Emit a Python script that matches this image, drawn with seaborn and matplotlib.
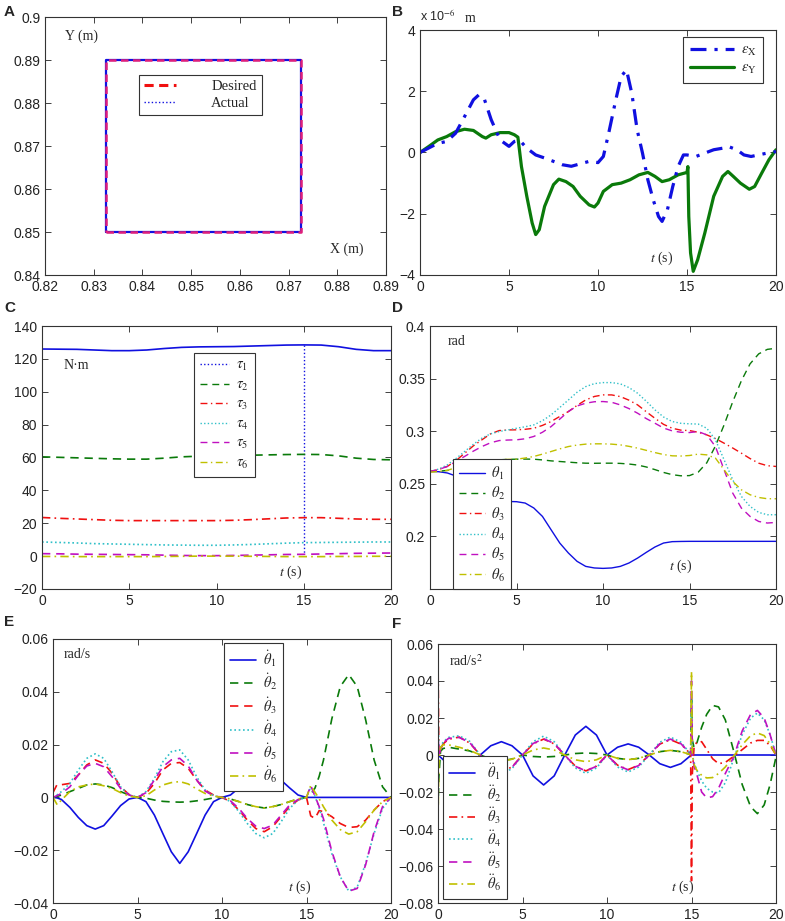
import matplotlib
matplotlib.use("Agg")
import matplotlib.pyplot as plt
from matplotlib.lines import Line2D
from matplotlib.ticker import FuncFormatter
import seaborn as sns

# =====================================================
# DATA
# =====================================================
# A: end-effector path
SQ_X = [0.8325, 0.8725, 0.8725, 0.8325, 0.8325]
SQ_Y = [0.850, 0.850, 0.890, 0.890, 0.850]

# B: tracking errors (x 1e-6 m)
EX_T = [0, 1, 1.5, 2, 2.5, 3, 3.3, 3.6, 4, 4.5, 5, 5.3, 5.6, 6, 6.5, 7, 7.5, 8, 8.5, 9,
        9.5, 10, 10.3, 10.6, 11, 11.3, 11.6, 11.9, 12.2, 12.5, 12.8, 13.1, 13.4, 13.6, 13.9,
        14.2, 14.5, 14.8, 15, 15.5, 16, 16.5, 17, 17.3, 17.8, 18.2, 18.6, 19, 19.5, 20]
EX_V = [0, 0.3, 0.36, 0.63, 1.17, 1.72, 1.88, 1.77, 1.07, 0.41, 0.2, 0.36, 0.4, 0.14, -0.08,
        -0.18, -0.29, -0.4, -0.45, -0.37, -0.29, -0.33, -0.13, 0.63, 1.72, 2.48, 2.7, 1.93,
        0.74, -0.02, -0.89, -1.54, -2.09, -2.25, -1.87, -1.11, -0.46, -0.08, -0.08, -0.13,
        -0.02, 0.09, 0.14, 0.2, 0.09, -0.08, -0.13, -0.08, -0.02, 0.03]
EY_T = [0, 0.5, 1, 1.5, 2, 2.5, 3, 3.5, 3.7, 4, 4.5, 5, 5.3, 5.5, 5.7, 6, 6.3, 6.5, 6.7, 7,
        7.5, 7.8, 8.2, 8.6, 9, 9.5, 9.8, 10, 10.3, 10.8, 11.3, 11.8, 12.3, 12.8, 13.2, 13.6,
        14, 14.5, 15, 15.05, 15.1, 15.2, 15.35, 15.6, 16, 16.5, 17, 17.3, 17.6, 18, 18.5,
        18.8, 19.2, 19.6, 20]
EY_V = [0, 0.2, 0.41, 0.52, 0.68, 0.76, 0.72, 0.52, 0.47, 0.58, 0.65, 0.65, 0.58, 0.5, -0.46,
        -1.43, -2.3, -2.68, -2.52, -1.76, -1.05, -0.87, -0.95, -1.11, -1.43, -1.71, -1.78,
        -1.65, -1.27, -1.05, -1.0, -0.89, -0.73, -0.65, -0.78, -0.95, -0.89, -0.73, -0.65,
        -0.46, -2.09, -3.28, -3.88, -3.5, -2.63, -1.43, -0.78, -0.62, -0.78, -1.0, -1.2,
        -1.11, -0.67, -0.24, 0.09]

# C: joint torques (N.m), 1 s steps
T_C = list(range(21))
TAU1 = [126.0, 125.9, 125.8, 125.4, 125.0, 125.0, 125.4, 126.3, 127.0, 127.3, 127.4, 127.5,
        127.8, 128.1, 128.4, 128.5, 128.4, 127.4, 125.8, 125.0, 125.0]
TAU1_SPIKE_T = [15.0, 15.0]
TAU1_SPIKE_V = [128.5, 1.0]
TAU2 = [60.4, 60.1, 59.8, 59.5, 59.2, 59.0, 59.0, 59.6, 60.4, 60.8, 61.0, 61.2, 61.4, 61.6,
        61.8, 61.9, 61.8, 61.0, 59.6, 58.8, 58.6]
TAU3 = [23.5, 23.0, 22.6, 22.2, 21.8, 21.6, 21.6, 21.6, 21.6, 21.6, 21.6, 21.8, 22.2, 22.7,
        23.2, 23.4, 23.4, 23.0, 22.6, 22.4, 22.4]
TAU4 = [8.6, 8.3, 8.0, 7.6, 7.4, 7.2, 7.0, 6.8, 6.7, 6.6, 6.6, 6.8, 7.1, 7.5, 7.9, 8.2, 8.3,
        8.4, 8.5, 8.6, 8.6]
TAU5 = [1.5, 1.4, 1.2, 1.1, 1.0, 0.9, 0.8, 0.6, 0.4, 0.3, 0.3, 0.4, 0.6, 0.8, 1.0, 1.1, 1.3,
        1.5, 1.7, 1.8, 1.9]
TAU6 = [-0.2, -0.2, -0.3, -0.3, -0.3, -0.3, -0.3, -0.2, -0.1, 0.0, 0.0, 0.0, -0.1, -0.2,
        -0.3, -0.3, -0.3, -0.2, -0.2, -0.1, -0.1]

# D: joint angles (rad), 0.5 s steps
T_D = [i * 0.5 for i in range(41)]
TH1 = [0.2617, 0.2615, 0.2603, 0.2574, 0.2529, 0.2474, 0.2418, 0.2373, 0.2344, 0.2332,
       0.2330, 0.2317, 0.2270, 0.2190, 0.2063, 0.1937, 0.1842, 0.1763, 0.1715, 0.1700,
       0.1696, 0.1700, 0.1715, 0.1747, 0.1794, 0.1848, 0.1899, 0.1937, 0.1950, 0.1952,
       0.1953, 0.1953, 0.1953, 0.1953, 0.1953, 0.1953, 0.1953, 0.1953, 0.1953, 0.1953, 0.1953]
TH2 = [0.2617, 0.2620, 0.2627, 0.2645, 0.2665, 0.2685, 0.2703, 0.2717, 0.2728, 0.2732,
       0.2734, 0.2735, 0.2734, 0.2727, 0.2718, 0.2712, 0.2706, 0.2700, 0.2696, 0.2695,
       0.2696, 0.2696, 0.2694, 0.2688, 0.2678, 0.2660, 0.2635, 0.2608, 0.2587, 0.2576,
       0.2578, 0.2610, 0.2700, 0.2860, 0.3060, 0.3280, 0.3480, 0.3640, 0.3735, 0.3778, 0.3788]
TH3 = [0.2617, 0.2635, 0.2665, 0.2720, 0.2790, 0.2860, 0.2918, 0.2975, 0.3006, 0.3012,
       0.3013, 0.3018, 0.3028, 0.3055, 0.3092, 0.3140, 0.3187, 0.3245, 0.3297, 0.3330,
       0.3345, 0.3345, 0.3329, 0.3295, 0.3250, 0.3185, 0.3123, 0.3065, 0.3028, 0.3010,
       0.3006, 0.2990, 0.2965, 0.2930, 0.2886, 0.2840, 0.2791, 0.2740, 0.2696, 0.2672, 0.2665]
TH4 = [0.2617, 0.2640, 0.2680, 0.2740, 0.2807, 0.2875, 0.2934, 0.2975, 0.2997, 0.3012,
       0.3028, 0.3042, 0.3060, 0.3100, 0.3155, 0.3225, 0.3297, 0.3370, 0.3424, 0.3452,
       0.3462, 0.3462, 0.3450, 0.3415, 0.3361, 0.3285, 0.3203, 0.3135, 0.3092, 0.3075,
       0.3070, 0.3068, 0.3028, 0.2918, 0.2728, 0.2538, 0.2380, 0.2285, 0.2228, 0.2206, 0.2206]
TH5 = [0.2617, 0.2635, 0.2665, 0.2712, 0.2760, 0.2810, 0.2854, 0.2890, 0.2911, 0.2916,
       0.2918, 0.2928, 0.2950, 0.2990, 0.3044, 0.3115, 0.3187, 0.3240, 0.3266, 0.3280,
       0.3282, 0.3275, 0.3250, 0.3215, 0.3171, 0.3120, 0.3076, 0.3030, 0.3003, 0.2990,
       0.2987, 0.2997, 0.2965, 0.2854, 0.2633, 0.2411, 0.2269, 0.2190, 0.2142, 0.2127, 0.2133]
TH6 = [0.2610, 0.2617, 0.2627, 0.2655, 0.2680, 0.2698, 0.2712, 0.2722, 0.2728, 0.2732,
       0.2734, 0.2745, 0.2760, 0.2782, 0.2807, 0.2832, 0.2854, 0.2868, 0.2877, 0.2880,
       0.2880, 0.2877, 0.2870, 0.2856, 0.2839, 0.2818, 0.2797, 0.2778, 0.2766, 0.2764,
       0.2769, 0.2782, 0.2775, 0.2744, 0.2633, 0.2522, 0.2443, 0.2396, 0.2370, 0.2358, 0.2358]

# E: joint velocities (rad/s)
T_E = [0, 0.25, 0.5, 1.0, 1.5, 2.0, 2.5, 3.0, 3.5, 4.0, 4.5, 5.0, 5.5, 6.0, 6.5, 7.0, 7.5,
       8.0, 8.5, 9.0, 9.5, 10.0, 10.5, 11.0, 11.5, 12.0, 12.5, 13.0, 13.5, 14.0, 14.5, 15.0,
       15.25, 15.5, 15.75, 16.0, 16.5, 17.0, 17.5, 18.0, 18.5, 19.0, 19.5, 20.0]
DTH1 = [0, -0.0002, -0.0008, -0.0038, -0.0076, -0.0107, -0.0120, -0.0107, -0.0070, -0.0031,
        -0.0006, 0, -0.0016, -0.0067, -0.0137, -0.0206, -0.0250, -0.0206, -0.0137, -0.0067,
        -0.0016, 0, 0.0009, 0.0036, 0.0065, 0.0090, 0.0100, 0.0090, 0.0065, 0.0036, 0.0009,
        0, 0, 0, 0, 0, 0, 0, 0, 0, 0, 0, 0, 0]
DTH2 = [0, 0.0004, 0.0009, 0.0022, 0.0034, 0.0047, 0.0051, 0.0047, 0.0037, 0.0022, 0.0009,
        0, -0.0003, -0.0010, -0.0015, -0.0017, -0.0018, -0.0017, -0.0013, -0.0008, -0.0002,
        0, -0.0006, -0.0016, -0.0027, -0.0035, -0.0040, -0.0035, -0.0027, -0.0016, -0.0006,
        0, 0.0012, 0.0035, 0.0080, 0.0140, 0.0298, 0.0420, 0.0465, 0.0420, 0.0294, 0.0142,
        0.0040, 0]
DTH3 = [0.0018, 0.0050, 0.0048, 0.0053, 0.0085, 0.0123, 0.0142, 0.0129, 0.0091, 0.0040,
        0.0011, 0, 0.0015, 0.0053, 0.0104, 0.0129, 0.0132, 0.0110, 0.0066, 0.0028, 0.0009,
        0, -0.0016, -0.0048, -0.0086, -0.0118, -0.0130, -0.0111, -0.0073, -0.0035, -0.0010,
        0, -0.0070, -0.0080, -0.0050, -0.0054, -0.0073, -0.0099, -0.0114, -0.0111, -0.0086,
        -0.0048, -0.0016, 0]
DTH4 = [0, 0.0010, 0.0022, 0.0053, 0.0104, 0.0148, 0.0165, 0.0148, 0.0097, 0.0040, 0.0009,
        0, 0.0022, 0.0072, 0.0135, 0.0173, 0.0180, 0.0142, 0.0078, 0.0028, 0.0006, 0,
        -0.0016, -0.0054, -0.0099, -0.0137, -0.0153, -0.0137, -0.0092, -0.0042, -0.0010, 0,
        0.0040, 0.0005, -0.0040, -0.0095, -0.0213, -0.0301, -0.0355, -0.0340, -0.0250,
        -0.0137, -0.0042, 0]
DTH5 = [0, 0.0007, 0.0015, 0.0040, 0.0085, 0.0119, 0.0129, 0.0116, 0.0078, 0.0034, 0.0009,
        0, 0.0018, 0.0066, 0.0116, 0.0142, 0.0148, 0.0119, 0.0066, 0.0024, 0.0006, 0,
        -0.0013, -0.0042, -0.0080, -0.0109, -0.0118, -0.0105, -0.0067, -0.0029, -0.0008, 0,
        0.0045, 0.0005, -0.0035, -0.0080, -0.0205, -0.0301, -0.0355, -0.0345, -0.0255,
        -0.0130, -0.0035, 0]
DTH6 = [0, -0.0028, -0.0010, 0.0022, 0.0040, 0.0047, 0.0051, 0.0044, 0.0034, 0.0018, 0.0005,
        0, 0.0006, 0.0028, 0.0047, 0.0056, 0.0060, 0.0051, 0.0032, 0.0015, 0.0005, 0,
        -0.0006, -0.0016, -0.0027, -0.0035, -0.0040, -0.0035, -0.0027, -0.0016, -0.0006, 0,
        0.0045, 0.0020, -0.0005, -0.0035, -0.0086, -0.0122, -0.0139, -0.0130, -0.0092,
        -0.0048, -0.0016, 0]

# F: joint accelerations (rad/s^2)
T_F = [0, 0.05, 0.15, 0.3, 0.625, 1.25, 1.875, 2.5, 3.125, 3.75, 4.375, 5.0, 5.625, 6.25,
       6.875, 7.5, 8.125, 8.75, 9.375, 10.0, 10.625, 11.25, 11.875, 12.5, 13.125, 13.75,
       14.375, 14.95, 15.0, 15.05, 15.15, 15.3, 15.6, 15.9, 16.25, 16.6, 17.0, 17.5, 18.0,
       18.5, 18.9, 19.3, 19.65, 20.0]
DDTH1 = [0, -0.0005, -0.0012, -0.0025, -0.0050, -0.0072, -0.0050, 0, 0.0050, 0.0072, 0.0050,
         0, -0.0113, -0.0162, -0.0113, 0, 0.0108, 0.0155, 0.0108, 0, 0.0042, 0.0060, 0.0042,
         0, -0.0047, -0.0067, -0.0047, -0.0003, 0, 0, 0, 0, 0, 0, 0, 0, 0, 0, 0, 0, 0, 0, 0, 0]
DDTH2 = [-0.030, -0.012, 0.002, 0.0035, 0.0042, 0.0032, 0.0022, 0, -0.0022, -0.0032, -0.0022,
         0, -0.0008, -0.0011, -0.0008, 0, 0.0008, 0.0011, 0.0008, 0, -0.0018, -0.0025,
         -0.0018, 0, 0.0018, 0.0025, 0.0018, 0.0002, 0.030, 0.008, 0.004, 0.006, 0.015, 0.022,
         0.0268, 0.026, 0.019, 0.002, -0.016, -0.028, -0.0317, -0.027, -0.016, -0.001]
DDTH3 = [0.055, 0.0, 0.003, 0.006, 0.0085, 0.0097, 0.0065, 0, -0.0065, -0.0090, -0.0065, 0,
         0.0060, 0.0086, 0.0060, 0, -0.0060, -0.0086, -0.0060, 0, -0.0055, -0.0079, -0.0055,
         0, 0.0059, 0.0083, 0.0059, 0.0005, -0.068, -0.010, 0.004, 0.0068, 0.0072, 0.0030,
         -0.0020, -0.0047, -0.0040, -0.0007, 0.0029, 0.0065, 0.0079, 0.0079, 0.0052, 0]
DDTH4 = [0.020, 0.005, 0.004, 0.007, 0.0095, 0.0104, 0.0074, 0, -0.0074, -0.0104, -0.0074, 0,
         0.0072, 0.0102, 0.0072, 0, -0.0070, -0.0099, -0.0070, 0, -0.0065, -0.0092, -0.0065,
         0, 0.0069, 0.0097, 0.0069, 0.0005, 0.030, 0.0, -0.004, -0.008, -0.014, -0.018,
         -0.0200, -0.0205, -0.015, -0.002, 0.011, 0.020, 0.0227, 0.019, 0.011, 0]
DDTH5 = [0.015, 0.0, 0.003, 0.0065, 0.0090, 0.0095, 0.0067, 0, -0.0067, -0.0095, -0.0067, 0,
         0.0062, 0.0088, 0.0062, 0, -0.0061, -0.0086, -0.0061, 0, -0.0057, -0.0080, -0.0057,
         0, 0.0061, 0.0086, 0.0061, 0.0005, 0.040, 0.0, -0.006, -0.010, -0.020, -0.0232,
         -0.0225, -0.018, -0.010, -0.001, 0.013, 0.022, 0.0241, 0.020, 0.011, 0]
DDTH6 = [-0.037, -0.005, 0.004, 0.0055, 0.0055, 0.0042, 0.0025, 0, -0.0025, -0.0033, -0.0023,
         0, 0.0027, 0.0038, 0.0027, 0, -0.0026, -0.0036, -0.0026, 0, -0.0018, -0.0025,
         -0.0018, 0, 0.0018, 0.0025, 0.0018, 0.0002, 0.045, 0.0, -0.005, -0.008, -0.011,
         -0.0124, -0.0122, -0.010, -0.0065, -0.0005, 0.0055, 0.0105, 0.0119, 0.0105, 0.006, 0]

# =====================================================
# STYLE
# =====================================================
sns.set_style("ticks")
plt.rcParams.update({
    "font.family": ["Liberation Sans", "DejaVu Sans"],
    "mathtext.fontset": "stix",
    "font.size": 10,
    "xtick.direction": "in",
    "ytick.direction": "in",
    "xtick.top": True,
    "ytick.right": True,
    "xtick.major.size": 4,
    "ytick.major.size": 4,
    "xtick.major.width": 0.6,
    "ytick.major.width": 0.6,
    "xtick.color": "#222222",
    "ytick.color": "#222222",
    "xtick.labelsize": 10,
    "ytick.labelsize": 10,
    "axes.edgecolor": "#333333",
    "axes.linewidth": 0.8,
})

BLUE = "#1010e0"
GREEN = "#0a7a0a"
RED = "#f01010"
CYAN = "#30c0c8"
MAGENTA = "#c010c0"
YELLOW = "#c0c000"

DASH = (0, (5, 3.5))
DASH_THICK = (0, (3, 1.8))
DASHDOT = (0, (5, 2.5, 1, 2.5))
DOT = (0, (1, 1.6))
SOLID = "-"

SERIF = ["Liberation Serif", "DejaVu Serif"]
fmt_g = FuncFormatter(lambda v, p: "{:g}".format(round(v, 6)).replace("-", "\u2212"))


def draw(ax, t, v, color, ls, lw=1.0):
    sns.lineplot(x=t, y=v, ax=ax, color=color, linestyle=ls, linewidth=lw,
                 sort=False, estimator=None, errorbar=None)


def finish(ax, xlim, ylim, xticks, yticks):
    ax.set_xlim(*xlim)
    ax.set_ylim(*ylim)
    ax.set_xticks(xticks)
    ax.set_yticks(yticks)
    ax.xaxis.set_major_formatter(fmt_g)
    ax.yaxis.set_major_formatter(fmt_g)
    ax.set_xlabel("")
    ax.set_ylabel("")
    for s in ax.spines.values():
        s.set_visible(True)


def legend(ax, entries, anchor, lw=1.0, spacing=0.3, size=10.5, hl=1.9, tp=0.45,
           bp=0.4):
    handles = [Line2D([], [], color=c, linestyle=ls, linewidth=lw) for c, ls, _ in entries]
    labels = [lab for _, _, lab in entries]
    lg = ax.legend(handles, labels, loc="upper left", bbox_to_anchor=anchor,
                   frameon=True, fancybox=False, framealpha=1, edgecolor="#333333",
                   handlelength=hl, handletextpad=tp, labelspacing=spacing,
                   borderpad=bp, borderaxespad=0, prop={"family": SERIF, "size": size})
    lg.get_frame().set_linewidth(0.8)
    return lg


W, H = 785, 921
fig = plt.figure(figsize=(W / 100, H / 100), dpi=100)


def axes_px(left, top, right, bottom):
    return fig.add_axes([left / W, 1 - bottom / H, (right - left) / W, (bottom - top) / H])


ax_a = axes_px(45, 17, 386, 275)
ax_b = axes_px(420, 30, 776, 275)
ax_c = axes_px(42, 326, 391, 589)
ax_d = axes_px(430, 326, 776, 589)
ax_e = axes_px(53, 639, 391, 903)
ax_f = axes_px(438, 644, 776, 903)

# ---------------- A ----------------
draw(ax_a, SQ_X, SQ_Y, BLUE, SOLID, 1.6)
draw(ax_a, SQ_X, SQ_Y, "#e0207a", DASH_THICK, 1.8)
finish(ax_a, (0.82, 0.89), (0.84, 0.9),
       [0.82, 0.83, 0.84, 0.85, 0.86, 0.87, 0.88, 0.89],
       [0.84, 0.85, 0.86, 0.87, 0.88, 0.89, 0.9])
lg_a = legend(ax_a, [(RED, DASH_THICK, "Desired"), (BLUE, DOT, "Actual")], (0.276, 0.775),
              spacing=0.25, size=10.5, hl=2.2, tp=2.4, bp=0.35)
lg_a.get_lines()[0].set_linewidth(2.2)
ax_a.text(0.06, 0.925, "Y (m)", transform=ax_a.transAxes, family=SERIF, size=10,
          va="center")
ax_a.text(0.835, 0.10, "X (m)", transform=ax_a.transAxes, family=SERIF, size=10,
          va="center")

# ---------------- B ----------------
draw(ax_b, EY_T, EY_V, GREEN, SOLID, 2.3)
draw(ax_b, EX_T, EX_V, BLUE, DASHDOT, 2.3)
finish(ax_b, (0, 20), (-4, 4), [0, 5, 10, 15, 20], [-4, -2, 0, 2, 4])
legend(ax_b, [(BLUE, DASHDOT, r"$\epsilon_{\mathrm{X}}$"),
              (GREEN, SOLID, r"$\epsilon_{\mathrm{Y}}$")], (0.74, 0.97), lw=2.3,
       spacing=0.25, size=10.5, hl=3.0, tp=0.5, bp=0.45)
ax_b.text(0.0, 1.025, r"x 10$^{-6}$", transform=ax_b.transAxes, size=9, va="bottom")
ax_b.text(0.125, 1.02, "m", transform=ax_b.transAxes, family=SERIF, size=10, va="bottom")
ax_b.text(0.645, 0.07, r"$t$ (s)", transform=ax_b.transAxes, family=SERIF, size=10,
          va="center")

# ---------------- C ----------------
draw(ax_c, T_C, TAU1, BLUE, SOLID, 1.2)
draw(ax_c, TAU1_SPIKE_T, TAU1_SPIKE_V, BLUE, DOT, 1.0)
draw(ax_c, T_C, TAU2, GREEN, DASH, 1.2)
draw(ax_c, T_C, TAU3, RED, DASHDOT, 1.2)
draw(ax_c, T_C, TAU4, CYAN, DOT, 1.2)
draw(ax_c, T_C, TAU5, MAGENTA, DASH, 1.2)
draw(ax_c, T_C, TAU6, YELLOW, DASHDOT, 1.2)
finish(ax_c, (0, 20), (-20, 140), [0, 5, 10, 15, 20], list(range(-20, 141, 20)))
legend(ax_c, [(BLUE, DOT, r"$\tau_1$"), (GREEN, DASH, r"$\tau_2$"),
              (RED, DASHDOT, r"$\tau_3$"), (CYAN, DOT, r"$\tau_4$"),
              (MAGENTA, DASH, r"$\tau_5$"), (YELLOW, DASHDOT, r"$\tau_6$")],
       (0.436, 0.897), spacing=0.36, hl=2.0, tp=0.45)
ax_c.text(0.063, 0.85, "N\u00b7m", transform=ax_c.transAxes, family=SERIF, size=10,
          va="center")
ax_c.text(0.68, 0.065, r"$t$ (s)", transform=ax_c.transAxes, family=SERIF, size=10,
          va="center")

# ---------------- D ----------------
draw(ax_d, T_D, TH1, BLUE, SOLID)
draw(ax_d, T_D, TH2, GREEN, DASH)
draw(ax_d, T_D, TH3, RED, DASHDOT)
draw(ax_d, T_D, TH4, CYAN, DOT)
draw(ax_d, T_D, TH5, MAGENTA, DASH)
draw(ax_d, T_D, TH6, YELLOW, DASHDOT)
finish(ax_d, (0, 20), (0.15, 0.4), [0, 5, 10, 15, 20], [0.2, 0.25, 0.3, 0.35, 0.4])
legend(ax_d, [(BLUE, SOLID, r"$\theta_1$"), (GREEN, DASH, r"$\theta_2$"),
              (RED, DASHDOT, r"$\theta_3$"), (CYAN, DOT, r"$\theta_4$"),
              (MAGENTA, DASH, r"$\theta_5$"), (YELLOW, DASHDOT, r"$\theta_6$")],
       (0.066, 0.494), spacing=0.22, hl=1.8, tp=0.4)
ax_d.text(0.05, 0.94, "rad", transform=ax_d.transAxes, family=SERIF, size=10,
          va="center")
ax_d.text(0.69, 0.085, r"$t$ (s)", transform=ax_d.transAxes, family=SERIF, size=10,
          va="center")

# ---------------- E ----------------
draw(ax_e, T_E, DTH1, BLUE, SOLID, 1.2)
draw(ax_e, T_E, DTH2, GREEN, DASH, 1.2)
draw(ax_e, T_E, DTH3, RED, DASH, 1.2)
draw(ax_e, T_E, DTH4, CYAN, DOT, 1.2)
draw(ax_e, T_E, DTH5, MAGENTA, DASH, 1.2)
draw(ax_e, T_E, DTH6, YELLOW, DASHDOT, 1.2)
finish(ax_e, (0, 20), (-0.04, 0.06), [0, 5, 10, 15, 20],
       [-0.04, -0.02, 0, 0.02, 0.04, 0.06])
legend(ax_e, [(BLUE, SOLID, r"$\dot{\theta}_1$"), (GREEN, DASH, r"$\dot{\theta}_2$"),
              (RED, DASH, r"$\dot{\theta}_3$"), (CYAN, DOT, r"$\dot{\theta}_4$"),
              (MAGENTA, DASH, r"$\dot{\theta}_5$"), (YELLOW, DASHDOT, r"$\dot{\theta}_6$")],
       (0.506, 0.985), lw=1.2, spacing=0.19, hl=1.8, tp=0.5)
ax_e.text(0.033, 0.94, "rad/s", transform=ax_e.transAxes, family=SERIF, size=10,
          va="center")
ax_e.text(0.695, 0.06, r"$t$ (s)", transform=ax_e.transAxes, family=SERIF, size=10,
          va="center")

# ---------------- F ----------------
draw(ax_f, T_F, DDTH1, BLUE, SOLID, 1.2)
draw(ax_f, T_F, DDTH2, GREEN, DASH, 1.2)
draw(ax_f, T_F, DDTH3, RED, DASHDOT, 1.2)
draw(ax_f, T_F, DDTH4, CYAN, DOT, 1.2)
draw(ax_f, T_F, DDTH5, MAGENTA, DASH, 1.2)
draw(ax_f, T_F, DDTH6, YELLOW, DASHDOT, 1.2)
finish(ax_f, (0, 20), (-0.08, 0.06), [0, 5, 10, 15, 20],
       [-0.08, -0.06, -0.04, -0.02, 0, 0.02, 0.04, 0.06])
legend(ax_f, [(BLUE, SOLID, r"$\ddot{\theta}_1$"), (GREEN, DASH, r"$\ddot{\theta}_2$"),
              (RED, DASHDOT, r"$\ddot{\theta}_3$"), (CYAN, DOT, r"$\ddot{\theta}_4$"),
              (MAGENTA, DASH, r"$\ddot{\theta}_5$"), (YELLOW, DASHDOT, r"$\ddot{\theta}_6$")],
       (0.015, 0.568), lw=1.2, spacing=0.12, hl=1.8, tp=0.8)
ax_f.text(0.033, 0.935, r"rad/s$^2$", transform=ax_f.transAxes, family=SERIF, size=10,
          va="center")
ax_f.text(0.69, 0.06, r"$t$ (s)", transform=ax_f.transAxes, family=SERIF, size=10,
          va="center")

# panel letters
for letter, x, y in [("A", 4, 12), ("B", 392, 12), ("C", 4, 308), ("D", 392, 308),
                     ("E", 4, 622), ("F", 392, 624)]:
    fig.text(x / W, 1 - y / H, letter, fontsize=11, fontweight="bold", va="center",
             ha="left")

fig.savefig("out.png", dpi=100)
